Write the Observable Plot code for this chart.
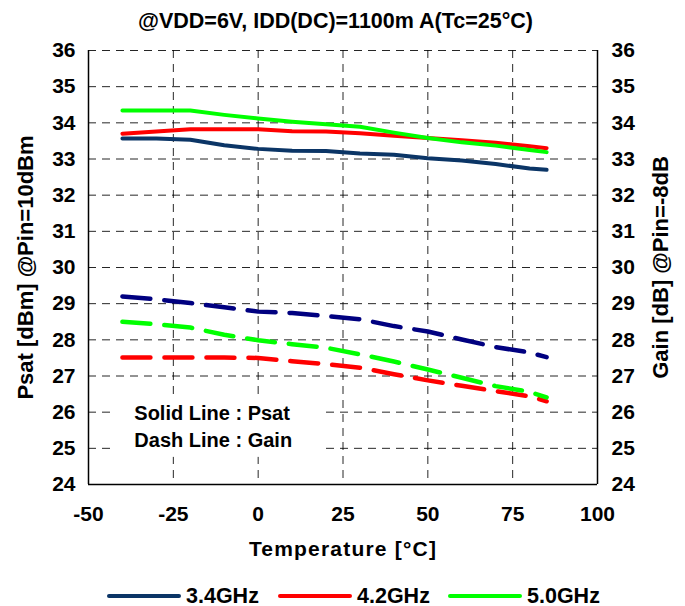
<!DOCTYPE html>
<html>
<head>
<meta charset="utf-8">
<script src="https://cdn.jsdelivr.net/npm/d3@7"></script>
<script src="https://cdn.jsdelivr.net/npm/@observablehq/plot@0.6"></script>
<style>
  html, body { margin: 0; padding: 0; background: #fff; }
  body { position: relative; width: 685px; height: 606px; overflow: hidden; font-family: "Liberation Sans", Arial, sans-serif; font-weight: bold; }
  #title { position: absolute; left: 0; top: 0; width: 685px; height: 40px; line-height: 42px; text-align: center; font-size: 21.5px; padding-right: 14px; box-sizing: border-box; z-index: 2; }
  #chart { position: absolute; left: 0; top: 0; }
  #legend { position: absolute; left: 0; top: 570px; width: 685px; height: 36px; font-size: 21.5px; }
  .lg { position: absolute; top: 0; display: flex; align-items: center; height: 36px; }
  .lg span.sw { display: inline-block; width: 74px; height: 4px; border-radius: 2px; margin-right: 5px; margin-top: 16px; }
  .lg span.tx { margin-top: 16px; }
</style>
</head>
<body>
<div id="chart"></div>
<div id="title">@VDD=6V, IDD(DC)=1100m A(Tc=25°C)</div>
<div id="legend"></div>
<script>
// ---- data ----
const temps   = [-40, -30, -20, -10, 0, 10, 20, 30, 40, 50, 60, 70, 80, 85];
const series  = ["3.4GHz", "4.2GHz", "5.0GHz"];
const psat34  = [33.57, 33.57, 33.53, 33.38, 33.28, 33.23, 33.22, 33.15, 33.12, 33.02, 32.96, 32.86, 32.74, 32.70];
const psat42  = [33.70, 33.76, 33.82, 33.82, 33.82, 33.77, 33.76, 33.71, 33.64, 33.58, 33.52, 33.45, 33.35, 33.30];
const psat50  = [34.34, 34.34, 34.34, 34.22, 34.12, 34.03, 33.96, 33.89, 33.73, 33.58, 33.46, 33.37, 33.25, 33.19];
const gain34  = [29.20, 29.12, 29.02, 28.90, 28.78, 28.74, 28.66, 28.57, 28.38, 28.23, 28.01, 27.80, 27.65, 27.52];
const gain42  = [27.51, 27.51, 27.51, 27.51, 27.50, 27.41, 27.33, 27.23, 27.05, 26.88, 26.73, 26.58, 26.44, 26.30];
const gain50  = [28.50, 28.43, 28.34, 28.14, 27.99, 27.88, 27.78, 27.60, 27.40, 27.18, 26.95, 26.72, 26.56, 26.41];
const xTicks  = [-50, -25, 0, 25, 50, 75, 100];
const yTicks  = [24, 25, 26, 27, 28, 29, 30, 31, 32, 33, 34, 35, 36];
const psatColors = ["#0b3566", "#ff0000", "#00ff00"];
const gainColors = ["#000080", "#ff0000", "#00ff00"];

const psatSets = [psat34, psat42, psat50];
const gainSets = [gain34, gain42, gain50];
const psat = [], gain = [];
series.forEach((s, i) => {
  temps.forEach((t, j) => {
    psat.push({series: s, t, v: psatSets[i][j]});
    gain.push({series: s, t, v: gainSets[i][j]});
  });
});

const gridStyle = {stroke: "#000", strokeOpacity: 0.85, strokeWidth: 1, strokeDasharray: "8,6"};

const chart = Plot.plot({
  width: 685,
  height: 570,
  marginLeft: 88,
  marginRight: 88,
  marginTop: 50,
  marginBottom: 86,
  style: {fontFamily: "'Liberation Sans', Arial, sans-serif", fontSize: "21px", fontWeight: "bold", color: "#000", background: "#fff"},
  x: {domain: [-50, 100]},
  y: {domain: [24, 36]},
  marks: [
    Plot.gridY(yTicks, gridStyle),
    Plot.gridX(xTicks, gridStyle),
    Plot.rect([0], {x1: -43, x2: 19, y1: 24.75, y2: 26.45, fill: "#fff"}),
    Plot.ruleX([-50, 100], {stroke: "#000", strokeWidth: 1.5}),
    Plot.ruleY([24], {stroke: "#000", strokeWidth: 1.5}),
    ...series.map((s, i) => Plot.line(gain.filter(d => d.series === s), {x: "t", y: "v", stroke: gainColors[i], strokeWidth: 4.5, strokeDasharray: "28,14"})),
    ...series.map((s, i) => Plot.line(psat.filter(d => d.series === s), {x: "t", y: "v", stroke: psatColors[i], strokeWidth: 4, strokeLinecap: "round"})),
    Plot.text(["Solid Line : Psat"], {x: -36.5, y: 25.96, text: d => d, textAnchor: "start", fontSize: 20, fontWeight: "bold"}),
    Plot.text(["Dash Line : Gain"], {x: -36.5, y: 25.22, text: d => d, textAnchor: "start", fontSize: 20, fontWeight: "bold"}),
    Plot.axisX(xTicks, {tickSize: 0, tickPadding: 22, label: null, fontSize: 21, tickFormat: d => String(d)}),
    Plot.axisY(yTicks, {anchor: "left", tickSize: 0, tickPadding: 13, label: null, fontSize: 21, tickFormat: d => String(d)}),
    Plot.axisY(yTicks, {anchor: "right", tickSize: 0, tickPadding: 14, label: null, fontSize: 21, tickFormat: d => String(d)}),
    Plot.text(["Temperature [°C]"], {frameAnchor: "bottom", dy: 71, text: d => d, fontSize: 21, fontWeight: "bold", className: "xlab"}),
    Plot.text(["Psat [dBm] @Pin=10dBm"], {frameAnchor: "left", dx: -63, rotate: -90, textAnchor: "middle", text: d => d, fontSize: 22, fontWeight: "bold"}),
    Plot.text(["Gain [dB] @Pin=-8dB"], {frameAnchor: "right", dx: 63, rotate: -90, textAnchor: "middle", text: d => d, fontSize: 22, fontWeight: "bold"})
  ]
});
document.getElementById("chart").appendChild(chart);
d3.select(chart).selectAll(".xlab text").attr("letter-spacing", "1.2px");

// legend
const legend = document.getElementById("legend");
const legendX = [107, 278, 448];
series.forEach((s, i) => {
  const d = document.createElement("div");
  d.className = "lg";
  d.style.left = legendX[i] + "px";
  d.innerHTML = `<span class="sw" style="background:${psatColors[i]}"></span><span class="tx">${s}</span>`;
  legend.appendChild(d);
});
</script>
</body>
</html>
